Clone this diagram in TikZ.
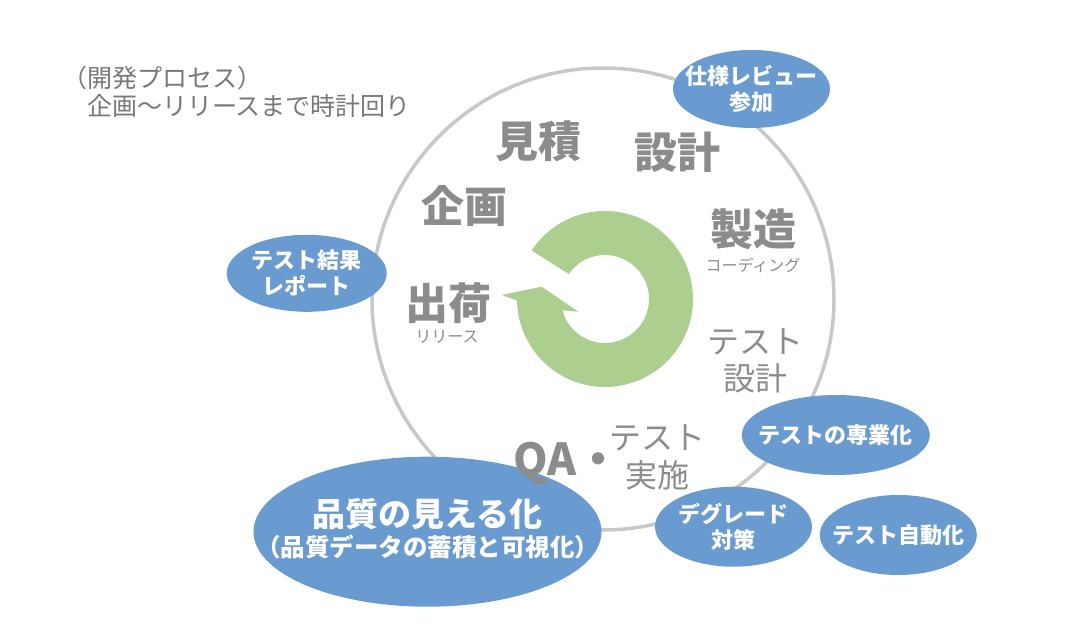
\documentclass[tikz,border=0pt]{standalone}
\usepackage{fontspec}
\setmainfont{Noto Sans CJK JP}
\usetikzlibrary{shapes.geometric}
\definecolor{ringgreen}{RGB}{172,207,143}
\definecolor{ovalblue}{RGB}{106,155,208}
\definecolor{wheelgray}{RGB}{200,200,200}
\definecolor{labgray}{RGB}{140,140,140}
\definecolor{ttlgray}{RGB}{120,120,120}

\begin{document}
\begin{tikzpicture}[x=1pt, y=1pt, line join=round, line cap=round,
    phase/.style={text=labgray, inner sep=0pt, font=\bfseries\fontsize{43}{48}\selectfont},
    subphase/.style={text=labgray, inner sep=0pt, font=\fontsize{16}{19}\selectfont},
    phasetwo/.style={text=labgray, inner sep=0pt, align=center, font=\fontsize{32}{38}\selectfont},
    oval/.style={ellipse, fill=ovalblue, inner sep=0pt},
    ovaltext/.style={text=white, align=center, inner sep=0pt, font=\bfseries\fontsize{22}{26}\selectfont}]
  \useasboundingbox (0,0) rectangle (1084,622);
  \def\wr{231} \def\ro{88} \def\ri{44}
  \coordinate (wheel) at (603,323);
  \coordinate (ringc) at (605,323);
  % process wheel and clockwise arrow
  \draw[wheelgray, line width=3.5pt] (wheel) circle[radius=\wr pt];
  \fill[ringgreen] ([shift={(ringc)}]146.5:\ro) arc[start angle=146.5, end angle=-179, radius=\ro pt]
    -- (501.7,327) -- (541.7,335.3) -- (578.3,310.3)
    -- ([shift={(ringc)}]-165:\ri) arc[start angle=-165, end angle=145.5, radius=\ri pt] -- cycle;
  \node (ttl) [anchor=west, align=left, inner sep=0pt, text=ttlgray, font=\fontsize{25}{28.5}\selectfont] at (62,530) {（開発プロセス）\\　企画～リリースまで時計回り};
  % phases
  \node (mitsumori) [phase] at (538,481) {見積};
  \node (sekkei) [phase] at (677,470) {設計};
  \node (kikaku) [phase] at (464,416) {企画};
  \node (seizo) [phase] at (753,393) {製造};
  \node (coding) [subphase] at (753,357) {コーディング};
  \node (shukka) [phase] at (448,319) {出荷};
  \node (release) [subphase] at (447,285) {リリース};
  \node (tsekkei) [phasetwo, font=\fontsize{32}{37}\selectfont] at (755,261) {テスト\\設計};
  \node (jisshi) [phasetwo] at (657,165) {テスト\\実施};
  % activities
  \node (review) [oval, minimum width=157pt, minimum height=78pt] at (751.5,533) {};
  \node (reviewt) [ovaltext] at (review) {仕様レビュー\\参加};
  \node (report) [oval, minimum width=160pt, minimum height=77pt] at (306.7,348.7) {};
  \node (reportt) [ovaltext] at (report) {テスト結果\\レポート};
  \node (senka) [oval, minimum width=188pt, minimum height=80pt] at (835.8,187) {};
  \node (senkat) [ovaltext] at (senka) {テストの専業化};
  \node (degrade) [oval, minimum width=157pt, minimum height=80pt] at (733.5,95.3) {};
  \node (degradet) [ovaltext] at (degrade) {デグレード\\対策};
  \node (jidoka) [oval, minimum width=157pt, minimum height=80pt] at (898.3,87) {};
  \node (jidokat) [ovaltext] at (jidoka) {テスト自動化};
  \node (mieruka) [oval, minimum width=348pt, minimum height=150pt] at (427.5,90.3) {};
  \node (mierukat) [ovaltext, font=\bfseries\fontsize{24.5}{30}\selectfont] at ([yshift=3]mieruka) {{\fontsize{33}{30}\selectfont 品質の見える化}\\（品質データの蓄積と可視化）};
  \node (qa) [anchor=base west, inner sep=0pt, text=labgray, font=\bfseries\fontsize{44}{48}\selectfont] at (513,147) {QA・};
\end{tikzpicture}
\end{document}
